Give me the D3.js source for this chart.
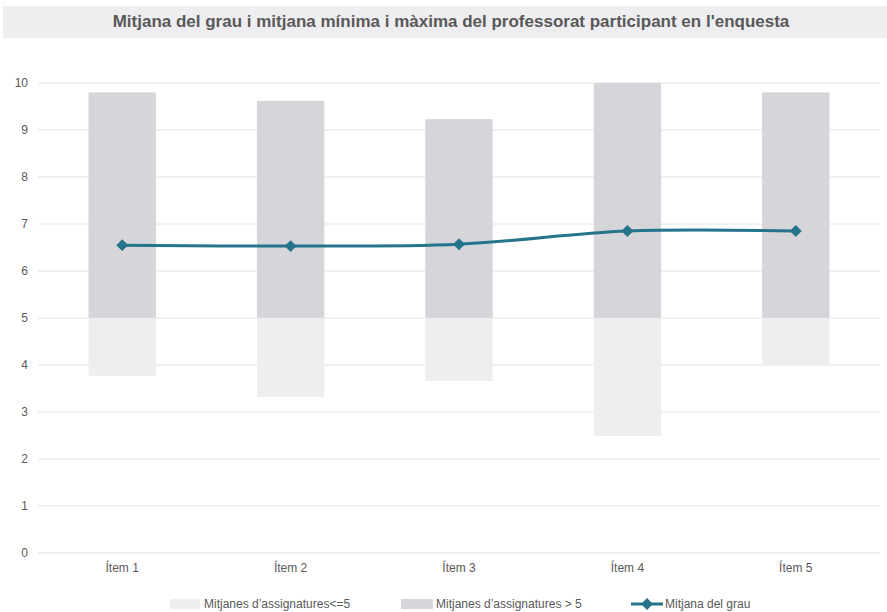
<!DOCTYPE html>
<html>
<head>
<meta charset="utf-8">
<script src="https://cdn.jsdelivr.net/npm/d3@7"></script>
<style>
    body { margin: 0; background: #fff; }
    svg { font-family: "Liberation Sans", Arial, sans-serif; }
</style>
</head>
<body>
<svg id="chart" width="887" height="612"></svg>
<script>
const categories = ["Ítem 1", "Ítem 2", "Ítem 3", "Ítem 4", "Ítem 5"];
const minValues = [3.77, 3.32, 3.66, 2.49, 4.0];
const maxValues = [9.8, 9.62, 9.23, 10.0, 9.8];
const meanValues = [6.55, 6.53, 6.57, 6.85, 6.85];
const yTicks = [0, 1, 2, 3, 4, 5, 6, 7, 8, 9, 10];
const splitValue = 5;

const svg = d3.select("#chart");
const W = 887, H = 612;
const margin = {left: 38, right: 7, top: 83, bottom: 59};

// title band
svg.append("rect").attr("x", 3).attr("y", 6).attr("width", W - 3).attr("height", 32).attr("fill", "#eeeef0");
svg.append("text").attr("x", 451).attr("y", 27).attr("text-anchor", "middle")
    .attr("font-size", 17).attr("font-weight", "bold").attr("fill", "#595959")
    .text("Mitjana del grau i mitjana mínima i màxima del professorat participant en l'enquesta");

const x = d3.scaleBand().domain(categories).range([margin.left, W - margin.right]).paddingInner(0.6).paddingOuter(0.3);
const y = d3.scaleLinear().domain([0, 10]).range([H - margin.bottom, margin.top]);

// gridlines
svg.append("g").selectAll("line").data(yTicks).join("line")
    .attr("x1", margin.left).attr("x2", W - margin.right)
    .attr("y1", d => y(d)).attr("y2", d => y(d))
    .attr("stroke", "#e4e4e4").attr("stroke-width", 1);

svg.append("g").selectAll("text").data(yTicks).join("text")
    .attr("x", 28).attr("y", d => y(d) + 4).attr("text-anchor", "end")
    .attr("font-size", 12).attr("fill", "#595959").text(d => d);

// lower bars (min to 5)
svg.append("g").selectAll("rect").data(categories).join("rect")
    .attr("x", d => x(d)).attr("width", x.bandwidth())
    .attr("y", y(splitValue)).attr("height", (d, i) => y(minValues[i]) - y(splitValue))
    .attr("fill", "#eeeef0");

// upper bars (5 to max)
svg.append("g").selectAll("rect").data(categories).join("rect")
    .attr("x", d => x(d)).attr("width", x.bandwidth())
    .attr("y", (d, i) => y(maxValues[i])).attr("height", (d, i) => y(splitValue) - y(maxValues[i]))
    .attr("fill", "#d5d5da");

// x labels
svg.append("g").selectAll("text").data(categories).join("text")
    .attr("x", d => x(d) + x.bandwidth() / 2).attr("y", H - margin.bottom + 19).attr("text-anchor", "middle")
    .attr("font-size", 12).attr("fill", "#595959").text(d => d);

// mean line
const lineColor = "#26748b";
const line = d3.line()
    .x((d, i) => x(categories[i]) + x.bandwidth() / 2)
    .y(d => y(d))
    .curve(d3.curveCatmullRom.alpha(0.5));
svg.append("path").datum(meanValues).attr("d", line)
    .attr("fill", "none").attr("stroke", lineColor).attr("stroke-width", 3);

const diamond = d3.symbol().type(d3.symbolDiamond2).size(90);
svg.append("g").selectAll("path").data(meanValues).join("path")
    .attr("d", diamond)
    .attr("transform", (d, i) => `translate(${x(categories[i]) + x.bandwidth() / 2},${y(d)})`)
    .attr("fill", lineColor);

// legend
const lg = svg.append("g").attr("font-size", 12).attr("fill", "#595959");
const ly = 604;
lg.append("rect").attr("x", 170).attr("y", ly - 5).attr("width", 30).attr("height", 10).attr("fill", "#eeeef0");
lg.append("text").attr("x", 204).attr("y", ly + 4).text("Mitjanes d’assignatures<=5");
lg.append("rect").attr("x", 401).attr("y", ly - 5).attr("width", 32).attr("height", 10).attr("fill", "#d5d5da");
lg.append("text").attr("x", 436).attr("y", ly + 4).text("Mitjanes d’assignatures > 5");
lg.append("line").attr("x1", 631).attr("x2", 663).attr("y1", ly).attr("y2", ly).attr("stroke", lineColor).attr("stroke-width", 3);
lg.append("path").attr("d", diamond).attr("transform", `translate(647,${ly})`).attr("fill", lineColor);
lg.append("text").attr("x", 665).attr("y", ly + 4).text("Mitjana del grau");
</script>
</body>
</html>
